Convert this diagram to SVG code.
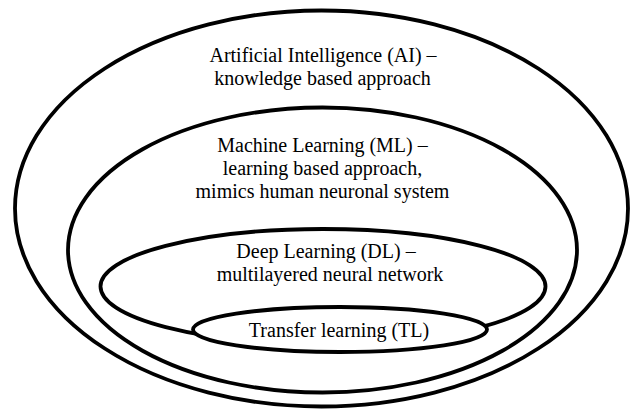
<svg xmlns="http://www.w3.org/2000/svg" width="636" height="411" viewBox="0 0 636 411">
<style>
.shape{fill:#fff;stroke:#000;stroke-width:3.8}
.lbl{font-family:"Liberation Serif","Times New Roman",serif;font-size:20px;fill:#000;text-anchor:middle}
</style>
<rect width="636" height="411" fill="#fff"/>
<g id="ai">
<ellipse class="shape" cx="321.5" cy="208.5" rx="306.5" ry="198"/>
<text class="lbl" x="323" y="62">Artificial Intelligence (AI) –</text>
<text class="lbl" x="322.5" y="85">knowledge based approach</text>
</g>
<g id="ml">
<ellipse class="shape" cx="322.5" cy="250" rx="254.5" ry="142.5"/>
<text class="lbl" x="322.5" y="152">Machine Learning (ML) –</text>
<text class="lbl" x="322.5" y="175">learning based approach,</text>
<text class="lbl" x="322.5" y="198">mimics human neuronal system</text>
</g>
<g id="dl">
<ellipse class="shape" cx="323" cy="286.5" rx="222.5" ry="57.5"/>
<text class="lbl" x="326" y="258">Deep Learning (DL) –</text>
<text class="lbl" x="330" y="281">multilayered neural network</text>
</g>
<g id="tl">
<ellipse class="shape" cx="340" cy="329.5" rx="147" ry="22.5"/>
<text class="lbl" x="339" y="337">Transfer learning (TL)</text>
</g>
<g id="connectors"/>
</svg>
